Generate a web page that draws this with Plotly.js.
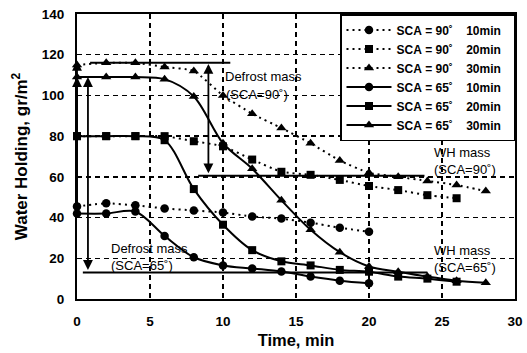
<!DOCTYPE html>
<html>
<head>
<meta charset="utf-8">
<script src="https://cdn.plot.ly/plotly-3.0.1.min.js"></script>
<style>html,body{margin:0;padding:0;background:#fff;}#chart{width:527px;height:353px;}</style>
</head>
<body>
<div id="chart"></div>
<script>
// Time (min)
const time10 = [0, 2, 4, 6, 8, 10, 12, 14, 16, 18, 20];
const time20 = [0, 2, 4, 6, 8, 10, 12, 14, 16, 18, 20, 22, 24, 26];
const time30 = [0, 2, 4, 6, 8, 10, 12, 14, 16, 18, 20, 22, 24, 26, 28];

// Water holding (gr/m^2)
const sca90_10 = [45.5, 47, 46, 44.5, 43.5, 42.5, 40.5, 39.5, 37.5, 35, 33];
const sca90_20 = [80, 80, 80, 80, 77.5, 75, 68.5, 62.5, 61, 58.5, 55.5, 53.5, 51, 49.5];
const sca90_30 = [115, 116, 116, 114, 112, 100, 91, 84, 76.5, 68, 62, 60, 58, 56, 53];
const sca65_10 = [42, 42, 43, 31, 20.5, 16.5, 15, 13.5, 11, 9, 7.7];
const sca65_20 = [80, 80, 80, 78, 54, 36.5, 24, 18.5, 16.5, 14.3, 13.4, 11, 10, 8.5];
const sca65_30 = [109, 109, 109, 108, 99.5, 76.5, 64, 48.5, 34, 23, 16, 13.4, 11, 9, 8];

const seriesNames = [
  "SCA\u00a0=\u00a090\u02da\u00a0\u00a0\u00a0\u00a010min\u00a0\u00a0",
  "SCA\u00a0=\u00a090\u02da\u00a0\u00a0\u00a0\u00a020min\u00a0\u00a0",
  "SCA\u00a0=\u00a090\u02da\u00a0\u00a0\u00a0\u00a030min\u00a0\u00a0",
  "SCA\u00a0=\u00a065\u02da\u00a0\u00a0\u00a0\u00a010min\u00a0\u00a0",
  "SCA\u00a0=\u00a065\u02da\u00a0\u00a0\u00a0\u00a020min\u00a0\u00a0",
  "SCA\u00a0=\u00a065\u02da\u00a0\u00a0\u00a0\u00a030min\u00a0\u00a0"
];

// Reference levels
const whMass90 = 60.5;
const whMass65 = 13;
const topLevel = 116;
const startLevel65 = 109;

const xTicks = [0, 5, 10, 15, 20, 25, 30];
const yTicks = [0, 20, 40, 60, 80, 100, 120, 140];

const FONT = "Liberation Sans, Arial, Helvetica, sans-serif";
const BLACK = "#000";

function mk(x, y, name, symbol, dotted) {
  return {
    x: x, y: y, name: name, type: "scatter", mode: "lines+markers",
    cliponaxis: false,
    line: {color: BLACK, width: 2, dash: dotted ? "2px,4px" : "solid",
           shape: "spline", smoothing: dotted ? 0.5 : 0.9},
    marker: {color: BLACK, symbol: symbol, size: symbol === "square" ? 8 : (symbol === "triangle-up" ? 9 : 8.5)}
  };
}

const data = [
  mk(time10, sca90_10, seriesNames[0], "circle", true),
  mk(time20, sca90_20, seriesNames[1], "square", true),
  mk(time30, sca90_30, seriesNames[2], "triangle-up", true),
  mk(time10, sca65_10, seriesNames[3], "circle", false),
  mk(time20, sca65_20, seriesNames[4], "square", false),
  mk(time30, sca65_30, seriesNames[5], "triangle-up", false)
];

function hline(x0, x1, y) {
  return {type: "line", xref: "x", yref: "y", x0: x0, x1: x1, y0: y, y1: y,
          line: {color: BLACK, width: 2}};
}

const shapes = [
  hline(0.9, 10.5, topLevel),
  hline(8.3, 23.8, whMass90),
  hline(0.4, 24, whMass65)
];

function arrow(x, yTip, yTail, both) {
  return {x: x, y: yTip, ax: x, ay: yTail, xref: "x", yref: "y", axref: "x", ayref: "y",
          text: "", showarrow: true, arrowhead: 2, arrowsize: 1.1, arrowwidth: 1.8,
          arrowcolor: BLACK, arrowside: both ? "end+start" : "end", startarrowhead: 2,
          startarrowsize: 1.1, standoff: 0, startstandoff: 0};
}

function label(x, y, txt) {
  return {x: x, y: y, xref: "x", yref: "y", text: txt, showarrow: false,
          xanchor: "left", yanchor: "middle",
          font: {family: FONT, size: 13, color: BLACK}};
}

const annotations = [
  arrow(9, topLevel - 0.5, whMass90 + 0.5, true),
  arrow(0.75, startLevel65, whMass65 + 0.5, true),
  arrow(0, 117, 44, false),
  arrow(0, startLevel65, 44, false),
  label(10.0, 109.5, "Defrost mass"),
  label(10.1, 100.5, "(SCA=90\u02da)"),
  label(24.3, 72, "WH mass"),
  label(24.3, 63.8, "(SCA=90\u02da)"),
  label(24.3, 23.8, "WH mass"),
  label(24.3, 15.4, "(SCA=65\u02da)"),
  label(2.2, 24.8, "Defrost mass"),
  label(2.2, 16.6, "(SCA=65\u02da)")
];

const layout = {
  width: 527, height: 353,
  margin: {l: 77, r: 12, t: 14, b: 54},
  paper_bgcolor: "#fff", plot_bgcolor: "#fff",
  font: {family: FONT, color: BLACK, size: 12},
  showlegend: true,
  legend: {
    x: 1, xanchor: "right", y: 1.0, yanchor: "top",
    bgcolor: "#fff", bordercolor: BLACK, borderwidth: 1.5,
    font: {family: FONT, size: 12, color: BLACK, weight: "bold"},
    itemwidth: 45, tracegroupgap: 0
  },
  xaxis: {
    range: [0, 30], tickvals: xTicks, ticktext: xTicks.map(String),
    showline: true, mirror: true, linecolor: BLACK, linewidth: 2,
    showgrid: true, gridcolor: BLACK, gridwidth: 1.3, griddash: "5px,4px",
    zeroline: false, ticks: "", ticklabelstandoff: 9,
    tickfont: {family: FONT, size: 13.5, color: BLACK, weight: "bold"},
    title: {text: "Time, min", font: {family: FONT, size: 16.5, color: BLACK, weight: "bold"}, standoff: 6}
  },
  yaxis: {
    range: [0, 140], tickvals: yTicks, ticktext: yTicks.map(String),
    showline: true, mirror: true, linecolor: BLACK, linewidth: 2,
    showgrid: true, gridcolor: BLACK, gridwidth: 1.3, griddash: "5px,4px",
    zeroline: false, ticks: "", ticklabelstandoff: 8,
    tickfont: {family: FONT, size: 13.5, color: BLACK, weight: "bold"},
    title: {text: "Water Holding, gr/m<sup>2</sup>", font: {family: FONT, size: 17, color: BLACK, weight: "bold"}, standoff: 10}
  },
  shapes: shapes,
  annotations: annotations
};

Plotly.newPlot("chart", data, layout, {displayModeBar: false, staticPlot: true});
</script>
</body>
</html>
